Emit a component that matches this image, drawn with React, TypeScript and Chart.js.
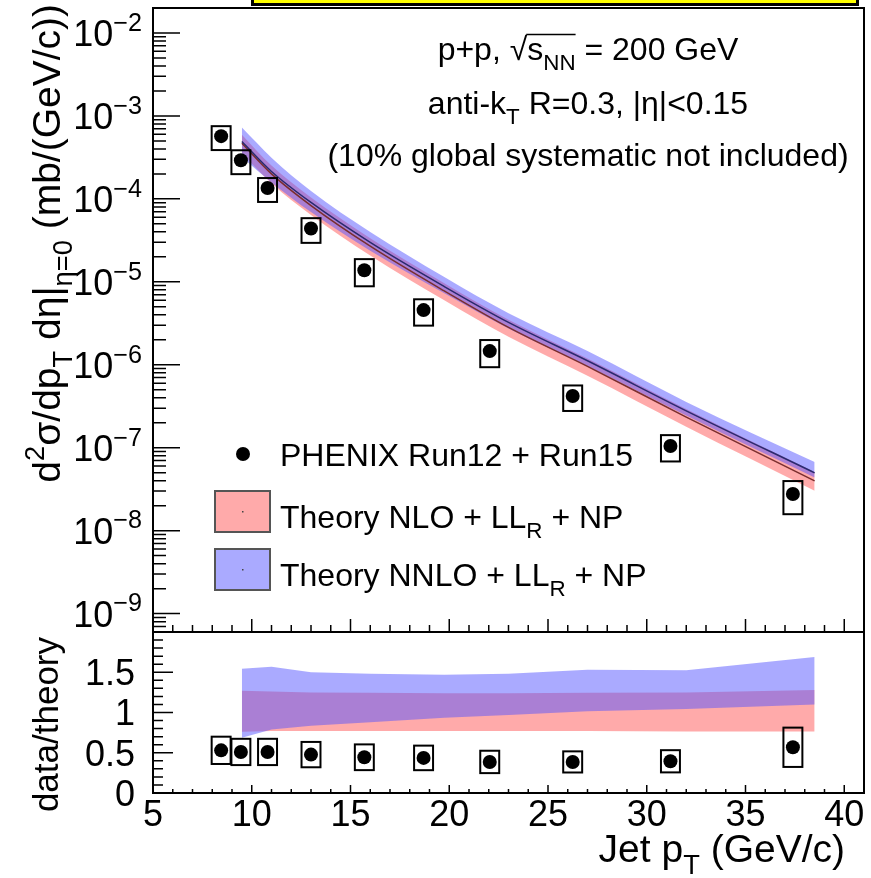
import { useEffect, useRef } from "react";
import { Chart, registerables } from "chart.js";

Chart.register(...registerables);

const FONT = '"Liberation Sans", Arial, Helvetica, sans-serif';
const RED_FILL = "rgba(255, 85, 85, 0.5)";
const BLUE_FILL = "rgba(85, 85, 255, 0.5)";

// PHENIX jet cross section, p+p at 200 GeV
const jetPt = [8.45, 9.45, 10.8, 13.0, 15.7, 18.7, 22.05, 26.25, 31.2, 37.4];
const crossSection = [5.7e-4, 2.92e-4, 1.35e-4, 4.4e-5, 1.38e-5, 4.56e-6, 1.46e-6, 4.2e-7, 1.05e-7, 2.77e-8];
const sysFraction = [0.32, 0.32, 0.32, 0.33, 0.36, 0.35, 0.36, 0.34, 0.35, 0.43];
const sysHalfWidth = 0.48;
const dataOverTheory = [0.53, 0.51, 0.51, 0.477, 0.444, 0.436, 0.386, 0.386, 0.394, 0.568];

// Theory curves: NLO central value and both bands relative to it
const theoryPt = [9.5, 11, 13, 16, 19.75, 23, 27, 32, 38.5];
const nloCentral = [4.68e-4, 2.0e-4, 8.3e-5, 2.69e-5, 7.76e-6, 2.82e-6, 9.55e-7, 2.34e-7, 3.98e-8];
const nloBandLow = [0.76, 0.77, 0.77, 0.77, 0.77, 0.77, 0.77, 0.765, 0.763];
const nloBandHigh = [1.27, 1.26, 1.25, 1.245, 1.24, 1.24, 1.245, 1.25, 1.28];
const nnloBandLow = [0.685, 0.79, 0.835, 0.88, 0.935, 0.97, 1.015, 1.045, 1.1];
const nnloBandHigh = [1.544, 1.568, 1.5, 1.48, 1.47, 1.48, 1.53, 1.525, 1.69];
const nnloCentralRatio = [1.05, 1.07, 1.09, 1.11, 1.13, 1.15, 1.17, 1.19, 1.25];

// Axis ranges and tick labels
const xRange = [5, 41];
const yRange = [6e-10, 2e-2];
const ratioRange = [0, 2];
const xTickLabels = [5, 10, 15, 20, 25, 30, 35, 40];
const yDecades = [-9, -8, -7, -6, -5, -4, -3, -2];
const ratioTickLabels = ["0", "0.5", "1", "1.5"];

const LABEL = 36;
const TITLE = 39;
const RATIO_TITLE = 35;
const TEXT = 32;

type Seg = { t: string; k?: number; dy?: number; bar?: boolean };

function setFont(ctx: CanvasRenderingContext2D, size: number, k = 1) {
  ctx.font = `${(size * k).toFixed(2)}px ${FONT}`;
}

function richWidth(ctx: CanvasRenderingContext2D, segs: Seg[], size: number) {
  let w = 0;
  for (const s of segs) {
    setFont(ctx, size, s.k);
    w += ctx.measureText(s.t).width;
  }
  return w;
}

function drawRich(
  ctx: CanvasRenderingContext2D,
  segs: Seg[],
  x: number,
  y: number,
  size: number,
  align: "left" | "center" | "right"
) {
  const total = richWidth(ctx, segs, size);
  let cx = align === "center" ? x - total / 2 : align === "right" ? x - total : x;
  let barFrom = -1;
  let barTo = -1;
  ctx.textAlign = "left";
  ctx.textBaseline = "alphabetic";
  for (const s of segs) {
    setFont(ctx, size, s.k);
    const w = ctx.measureText(s.t).width;
    ctx.fillText(s.t, cx, y + (s.dy ?? 0) * size);
    if (s.bar) {
      if (barFrom < 0) barFrom = cx;
      barTo = cx + w;
    }
    cx += w;
  }
  if (barFrom >= 0) {
    ctx.beginPath();
    ctx.lineWidth = 1.5;
    ctx.moveTo(barFrom - 1, y - 0.8 * size);
    ctx.lineTo(barTo, y - 0.8 * size);
    ctx.stroke();
  }
}

function logTicks(min: number, max: number) {
  const out: { v: number; major: boolean }[] = [];
  for (let e = Math.floor(Math.log10(min)); e <= Math.ceil(Math.log10(max)); e++) {
    for (let m = 1; m <= 9; m++) {
      const v = m * Math.pow(10, e);
      if (v >= min * 0.999 && v <= max * 1.001) out.push({ v, major: m === 1 });
    }
  }
  return out;
}

function drawSysBoxes(chart: any, values: number[]) {
  const { ctx, scales } = chart;
  const { x, y } = scales;
  ctx.save();
  ctx.strokeStyle = "#000";
  ctx.lineWidth = 2;
  jetPt.forEach((pt, i) => {
    const x0 = x.getPixelForValue(pt - sysHalfWidth);
    const x1 = x.getPixelForValue(pt + sysHalfWidth);
    const y0 = y.getPixelForValue(values[i] * (1 + sysFraction[i]));
    const y1 = y.getPixelForValue(values[i] * (1 - sysFraction[i]));
    ctx.strokeRect(x0, y0, x1 - x0, y1 - y0);
  });
  ctx.restore();
}

const topPanelPlugin = {
  id: "topPanel",
  afterDatasetsDraw(chart: any) {
    drawSysBoxes(chart, crossSection);
  },
  afterDraw(chart: any) {
    const { ctx, chartArea: a, scales } = chart;
    const { x, y } = scales;
    ctx.save();
    ctx.strokeStyle = "#000";
    ctx.fillStyle = "#000";
    ctx.lineWidth = 2;
    ctx.strokeRect(a.left, a.top, a.right - a.left, a.bottom - a.top);

    ctx.lineWidth = 1.5;
    ctx.beginPath();
    for (const t of logTicks(yRange[0], yRange[1])) {
      const py = y.getPixelForValue(t.v);
      ctx.moveTo(a.left, py);
      ctx.lineTo(a.left + (t.major ? 27 : 13), py);
    }
    for (let v = xRange[0]; v <= xRange[1]; v++) {
      const px = x.getPixelForValue(v);
      ctx.moveTo(px, a.bottom);
      ctx.lineTo(px, a.bottom - (v % 5 === 0 ? 13 : 7));
    }
    ctx.stroke();

    for (const e of yDecades) {
      const py = y.getPixelForValue(Math.pow(10, e));
      drawRich(ctx, [{ t: "10" }, { t: "\u2212" + Math.abs(e), k: 0.7, dy: -0.42 }], 142, py + 0.36 * LABEL, LABEL, "right");
    }

    // vertical axis title
    ctx.save();
    ctx.translate(60, 0);
    ctx.rotate(-Math.PI / 2);
    drawRich(
      ctx,
      [
        { t: "d" },
        { t: "2", k: 0.7, dy: -0.42 },
        { t: "\u03c3/dp" },
        { t: "T", k: 0.7, dy: 0.3 },
        { t: " d\u03b7|" },
        { t: "\u03b7=0", k: 0.7, dy: 0.3 },
        { t: " (mb/(GeV/c))" },
      ],
      -4,
      0,
      TITLE,
      "right"
    );
    ctx.restore();

    // annotations
    const cx = 588;
    drawRich(
      ctx,
      [
        { t: "p+p, " },
        { t: "\u221a" },
        { t: "s", bar: true },
        { t: "NN", k: 0.7, dy: 0.3, bar: true },
        { t: " = 200 GeV" },
      ],
      cx,
      60,
      TEXT,
      "center"
    );
    drawRich(
      ctx,
      [{ t: "anti-k" }, { t: "T", k: 0.7, dy: 0.3 }, { t: " R=0.3, |\u03b7|<0.15" }],
      cx,
      114,
      TEXT,
      "center"
    );
    drawRich(ctx, [{ t: "(10% global systematic not included)" }], cx, 166, TEXT, "center");

    // legend
    ctx.beginPath();
    ctx.arc(243, 454, 7, 0, Math.PI * 2);
    ctx.fill();
    drawRich(ctx, [{ t: "PHENIX Run12 + Run15" }], 280, 466, TEXT, "left");

    const boxes = [
      { top: 491, fill: RED_FILL, label: "Theory NLO + LL" },
      { top: 549, fill: BLUE_FILL, label: "Theory NNLO + LL" },
    ];
    for (const b of boxes) {
      ctx.fillStyle = "#fff";
      ctx.fillRect(215, b.top, 55, 41);
      ctx.fillStyle = b.fill;
      ctx.fillRect(215, b.top, 55, 41);
      ctx.strokeStyle = "#555";
      ctx.lineWidth = 2;
      ctx.strokeRect(215, b.top, 55, 41);
      ctx.fillStyle = "#444";
      ctx.fillRect(242, b.top + 20, 1.5, 1.5);
      ctx.fillStyle = "#000";
      drawRich(ctx, [{ t: b.label }, { t: "R", k: 0.7, dy: 0.3 }, { t: " + NP" }], 280, b.top + 37, TEXT, "left");
    }
    ctx.restore();
  },
};

const ratioPanelPlugin = {
  id: "ratioPanel",
  afterDatasetsDraw(chart: any) {
    drawSysBoxes(chart, dataOverTheory);
  },
  afterDraw(chart: any) {
    const { ctx, chartArea: a, scales } = chart;
    const { x, y } = scales;
    ctx.save();
    ctx.strokeStyle = "#000";
    ctx.fillStyle = "#000";
    ctx.lineWidth = 2;
    ctx.strokeRect(a.left, a.top, a.right - a.left, a.bottom - a.top);

    ctx.lineWidth = 1.5;
    ctx.beginPath();
    for (let i = 0; i <= 20; i++) {
      const py = y.getPixelForValue(i / 10);
      ctx.moveTo(a.left, py);
      ctx.lineTo(a.left + (i % 5 === 0 ? 20 : 10), py);
    }
    for (let v = xRange[0]; v <= xRange[1]; v++) {
      const px = x.getPixelForValue(v);
      ctx.moveTo(px, a.bottom);
      ctx.lineTo(px, a.bottom - (v % 5 === 0 ? 8 : 4));
    }
    ctx.stroke();

    ratioTickLabels.forEach((lab) => {
      const py = y.getPixelForValue(parseFloat(lab));
      drawRich(ctx, [{ t: lab }], 135, py + 0.36 * LABEL, LABEL, "right");
    });
    xTickLabels.forEach((v) => {
      const px = x.getPixelForValue(v);
      drawRich(ctx, [{ t: String(v) }], px, a.bottom + 33, LABEL, "center");
    });

    drawRich(ctx, [{ t: "Jet p" }, { t: "T", k: 0.7, dy: 0.3 }, { t: " (GeV/c)" }], 845, a.bottom + 69, TITLE, "right");

    ctx.save();
    ctx.translate(58, 0);
    ctx.rotate(-Math.PI / 2);
    drawRich(ctx, [{ t: "data/theory" }], -(a.top + 5), 0, RATIO_TITLE, "right");
    ctx.restore();
    ctx.restore();
  },
};

function series(xs: number[], ys: number[]) {
  return xs.map((x, i) => ({ x, y: ys[i] }));
}

function bandEdge(ratio: number[]) {
  return series(theoryPt, nloCentral.map((v, i) => v * ratio[i]));
}

const hidden = { borderWidth: 0, borderColor: "transparent", pointRadius: 0 };

function topConfig(): any {
  return {
    type: "line",
    data: {
      datasets: [
        { ...hidden, data: bandEdge(nloBandLow), fill: false, order: 6 },
        { ...hidden, data: bandEdge(nloBandHigh), fill: 0, backgroundColor: RED_FILL, order: 5 },
        { ...hidden, data: bandEdge(nnloBandLow), fill: false, order: 4 },
        { ...hidden, data: bandEdge(nnloBandHigh), fill: 2, backgroundColor: BLUE_FILL, order: 3 },
        {
          data: series(theoryPt, nloCentral),
          borderColor: "#7a2e2e",
          borderWidth: 1.5,
          pointRadius: 0,
          fill: false,
          order: 2,
        },
        {
          data: bandEdge(nnloCentralRatio),
          borderColor: "#2a2a6e",
          borderWidth: 1.5,
          pointRadius: 0,
          fill: false,
          order: 1,
        },
        {
          data: series(jetPt, crossSection),
          showLine: false,
          pointRadius: 7,
          pointBorderWidth: 0,
          pointBackgroundColor: "#000",
          order: 0,
        },
      ],
    },
    options: {
      responsive: false,
      animation: false,
      events: [],
      layout: { padding: { left: 153, right: 2, top: 8, bottom: 8 } },
      elements: { line: { cubicInterpolationMode: "monotone" } },
      plugins: { legend: { display: false }, tooltip: { enabled: false }, filler: { propagate: false } },
      scales: {
        x: { type: "linear", min: xRange[0], max: xRange[1], display: false },
        y: { type: "logarithmic", min: yRange[0], max: yRange[1], display: false },
      },
    },
    plugins: [topPanelPlugin],
  };
}

function ratioConfig(): any {
  return {
    type: "line",
    data: {
      datasets: [
        { ...hidden, data: series(theoryPt, nloBandLow), fill: false, order: 4 },
        { ...hidden, data: series(theoryPt, nloBandHigh), fill: 0, backgroundColor: RED_FILL, order: 3 },
        { ...hidden, data: series(theoryPt, nnloBandLow), fill: false, order: 2 },
        { ...hidden, data: series(theoryPt, nnloBandHigh), fill: 2, backgroundColor: BLUE_FILL, order: 1 },
        {
          data: series(jetPt, dataOverTheory),
          showLine: false,
          pointRadius: 7,
          pointBorderWidth: 0,
          pointBackgroundColor: "#000",
          order: 0,
        },
      ],
    },
    options: {
      responsive: false,
      animation: false,
      events: [],
      layout: { padding: { left: 153, right: 2, top: 32, bottom: 85 } },
      elements: { line: { tension: 0 } },
      plugins: { legend: { display: false }, tooltip: { enabled: false }, filler: { propagate: false } },
      scales: {
        x: { type: "linear", min: xRange[0], max: xRange[1], display: false },
        y: { type: "linear", min: ratioRange[0], max: ratioRange[1], display: false },
      },
    },
    plugins: [ratioPanelPlugin],
  };
}

export default function App() {
  const topRef = useRef<HTMLCanvasElement>(null);
  const ratioRef = useRef<HTMLCanvasElement>(null);

  useEffect(() => {
    const top = new Chart(topRef.current as HTMLCanvasElement, topConfig());
    const ratio = new Chart(ratioRef.current as HTMLCanvasElement, ratioConfig());
    return () => {
      top.destroy();
      ratio.destroy();
    };
  }, []);

  return (
    <div
      style={{
        position: "absolute",
        left: 0,
        top: 0,
        width: 871,
        height: 878,
        background: "#fff",
        overflow: "hidden",
      }}
    >
      <div
        style={{
          position: "absolute",
          left: 251,
          top: -10,
          width: 608,
          height: 16,
          background: "#ffff00",
          border: "3px solid #000",
          boxSizing: "border-box",
        }}
      />
      <canvas ref={ratioRef} width={871} height={278} style={{ position: "absolute", left: 0, top: 600 }} />
      <canvas ref={topRef} width={871} height={640} style={{ position: "absolute", left: 0, top: 0 }} />
    </div>
  );
}
